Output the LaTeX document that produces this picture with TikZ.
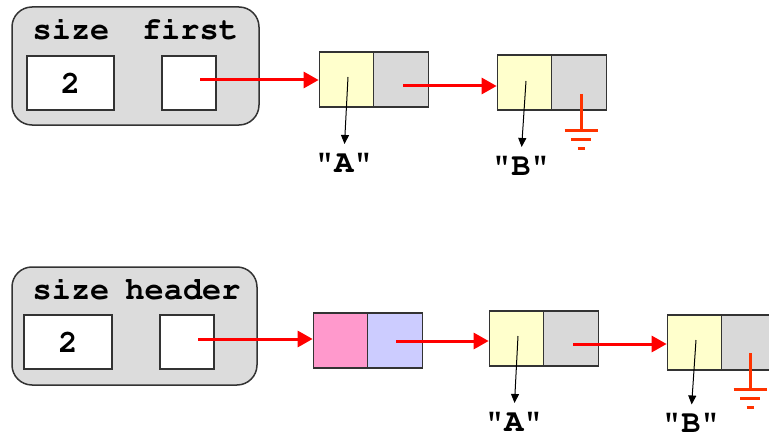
\documentclass[tikz,border=0pt]{standalone}
\usepackage[T1]{fontenc}
\usepackage{fontspec}
\usetikzlibrary{arrows.meta}
\definecolor{edge}{HTML}{333333}
\definecolor{boxgray}{HTML}{DCDCDC}
\definecolor{cellgray}{HTML}{D9D9D9}
\definecolor{cellyellow}{HTML}{FFFFCC}
\definecolor{cellpink}{HTML}{FF99CC}
\definecolor{celllav}{HTML}{CCCCFF}
\definecolor{gndcol}{HTML}{FF3300}
% bold Courier for all labels
\newcommand\courbold{\fontencoding{T1}\fontfamily{pcr}\fontseries{b}\fontsize{32}{32}\selectfont}
\begin{document}
\begin{tikzpicture}[x=1pt,y=-1pt,
  struct/.style={draw=edge, fill=boxgray, rounded corners=20pt, line width=1.5pt, inner sep=0pt},
  field/.style={draw=edge, fill=white, line width=1.2pt, minimum height=54pt, inner sep=0pt},
  cell/.style={draw=edge, line width=1.2pt, minimum width=54.5pt, minimum height=55pt, inner sep=0pt},
  lbl/.style={font=\courbold, inner sep=0pt},
  link/.style={red, line width=3pt, -{Triangle[length=15pt,width=16pt]}},
  ptr/.style={black, line width=1pt, -{Triangle[length=9pt,width=8pt]}, shorten >=10pt},
  gnd/.style={gndcol, line width=3pt}]
\useasboundingbox (0,0) rectangle (769,436);

% ---------- list with a "first" pointer ----------
\node[struct, minimum width=247pt, minimum height=118pt] (s1) at (135.5,66) {};
\node[lbl, anchor=base] (s1size) at (71,40) {size};
\node[lbl, anchor=base] (s1first) at (190,40) {first};
\node[field, minimum width=87pt] (s1n) at (70.5,83) {};
\node[lbl] (s1two) at (s1n) {2};
\node[field, minimum width=54pt] (s1p) at (189,83) {};

\node[cell, fill=cellyellow] (a1) at (346.5,79.5) {};
\node[cell, fill=cellgray]   (a1n) at (401,79.5) {};
\node[cell, fill=cellyellow] (b1) at (524.5,82.5) {};
\node[cell, fill=cellgray]   (b1n) at (579,82.5) {};

\coordinate (p0) at (200,80);
\coordinate (p1) at (403,86);
\draw[link] (p0) -- (p0 -| a1.west);
\draw[link] (p1) -- (p1 -| b1.west);

\node[lbl, anchor=base] (la1) at (344,172) {"A"};
\node[lbl, anchor=base] (lb1) at (521,175) {"B"};
\coordinate (qa1) at (348,77);
\coordinate (qb1) at (526,81);
\draw[ptr] (qa1) -- (la1.north);
\draw[ptr] (qb1) -- (lb1.north);

% null terminator
\coordinate (g1) at (581,94);
\coordinate (g1b) at (581,130);
\draw[gnd] (g1) -- (g1b);
\draw[gnd] ([xshift=-16.5pt]g1b) -- ([xshift=16.5pt]g1b);
\draw[gnd] ([xshift=-10pt,yshift=-9pt]g1b) -- ([xshift=10pt,yshift=-9pt]g1b);
\draw[gnd] ([xshift=-3.5pt,yshift=-18pt]g1b) -- ([xshift=3.5pt,yshift=-18pt]g1b);

% ---------- list with a header node ----------
\node[struct, minimum width=245pt, minimum height=118pt] (s2) at (134.5,326) {};
\node[lbl, anchor=base] (s2size) at (71,299) {size};
\node[lbl, anchor=base] (s2head) at (183,299) {header};
\node[field, minimum width=88pt] (s2n) at (68,342) {};
\node[lbl] (s2two) at (s2n) {2};
\node[field, minimum width=54pt] (s2p) at (187,342) {};

\node[cell, fill=cellpink] (h2) at (340.5,340.5) {};
\node[cell, fill=celllav]  (h2n) at (395,340.5) {};
\node[cell, fill=cellyellow] (a2) at (516.5,338.5) {};
\node[cell, fill=cellgray]   (a2n) at (571,338.5) {};
\node[cell, fill=cellyellow] (b2) at (694.5,342.5) {};
\node[cell, fill=cellgray]   (b2n) at (749,342.5) {};

\coordinate (r0) at (198,339);
\coordinate (r1) at (396,341);
\coordinate (r2) at (573,344);
\draw[link] (r0) -- (r0 -| h2.west);
\draw[link] (r1) -- (r1 -| a2.west);
\draw[link] (r2) -- (r2 -| b2.west);

\node[lbl, anchor=base] (la2) at (514,431) {"A"};
\node[lbl, anchor=base] (lb2) at (691,432.5) {"B"};
\coordinate (qa2) at (518,336);
\coordinate (qb2) at (696,340);
\draw[ptr] (qa2) -- (la2.north);
\draw[ptr] (qb2) -- (lb2.north);

\coordinate (g2) at (750,353);
\coordinate (g2b) at (750,389);
\draw[gnd] (g2) -- (g2b);
\draw[gnd] ([xshift=-16.5pt]g2b) -- ([xshift=16.5pt]g2b);
\draw[gnd] ([xshift=-10pt,yshift=-9pt]g2b) -- ([xshift=10pt,yshift=-9pt]g2b);
\draw[gnd] ([xshift=-3.5pt,yshift=-18pt]g2b) -- ([xshift=3.5pt,yshift=-18pt]g2b);
\end{tikzpicture}
\end{document}
